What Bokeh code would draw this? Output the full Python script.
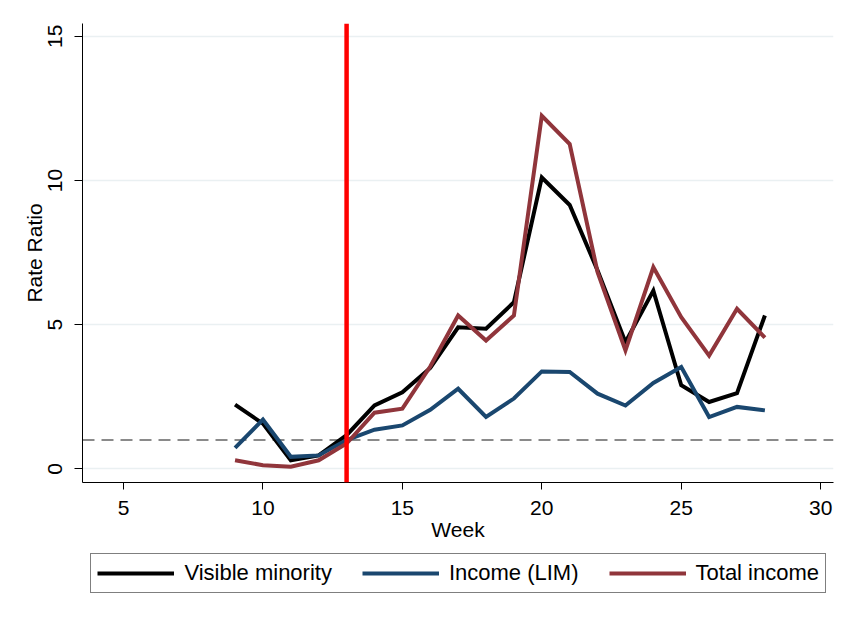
from bokeh.plotting import figure
from bokeh.layouts import column
from bokeh.models import Span, Legend, LegendItem, FixedTicker, Range1d
from bokeh.embed import file_html
from bokeh.resources import INLINE

# datos
weeks = list(range(9, 29))
visible_minority = [2.23, 1.57, 0.30, 0.47, 1.17, 2.20, 2.66, 3.50, 4.91, 4.86,
                    5.78, 10.10, 9.15, 6.88, 4.39, 6.18, 2.90, 2.32, 2.63, 5.32]
income_lim = [0.73, 1.71, 0.42, 0.47, 1.00, 1.36, 1.51, 2.05, 2.78, 1.80,
              2.44, 3.38, 3.36, 2.61, 2.20, 2.98, 3.53, 1.80, 2.15, 2.03]
total_income = [0.30, 0.13, 0.08, 0.30, 0.88, 1.95, 2.09, 3.55, 5.32, 4.45,
                5.32, 12.24, 11.26, 6.82, 4.11, 6.99, 5.26, 3.93, 5.55, 4.55]

series_names = ["Visible minority", "Income (LIM)", "Total income"]
series_colors = ["black", "#1a476f", "#90353b"]

x_ticks = [5, 10, 15, 20, 25, 30]
y_ticks = [0, 5, 10, 15]
intervention_week = 13
reference_ratio = 1

FONT = "Liberation Sans"

p = figure(width=856, height=552, output_backend="svg", toolbar_location=None,
           x_range=Range1d(3.53, 30.46), y_range=Range1d(-0.47, 15.44),
           min_border_left=82, min_border_right=23, min_border_top=23,
           min_border_bottom=70)
p.outline_line_color = None
p.xgrid.grid_line_color = None
p.ygrid.grid_line_color = "#eaf0f2"
p.ygrid.grid_line_width = 1.5
p.xaxis.ticker = FixedTicker(ticks=x_ticks)
p.yaxis.ticker = FixedTicker(ticks=y_ticks)

for ax in (p.xaxis[0], p.yaxis[0]):
    ax.axis_line_color = "black"
    ax.major_tick_line_color = "black"
    ax.minor_tick_line_color = None
    ax.major_tick_in = 0
    ax.major_label_text_font = FONT
    ax.major_label_text_font_size = "21px"
    ax.major_label_text_color = "black"
    ax.axis_label_text_font = FONT
    ax.axis_label_text_font_size = "21px"
    ax.axis_label_text_font_style = "normal"
    ax.axis_label_text_color = "black"

p.xaxis.major_tick_out = 7
p.xaxis.major_label_standoff = 11
p.xaxis.axis_label = "Week"
p.xaxis.axis_label_standoff = 0
p.yaxis.major_tick_out = 8
p.yaxis.major_label_orientation = "vertical"
p.yaxis.major_label_standoff = 12
p.yaxis.axis_label = "Rate Ratio"
p.yaxis.axis_label_standoff = 0

# linea de referencia en 1
p.add_layout(Span(location=reference_ratio, dimension="width", line_color="#8a8a8a",
                  line_width=2, line_dash="12 7", level="underlay"))

all_series = [visible_minority, income_lim, total_income]
for vals, col in zip(all_series, series_colors):
    p.line(weeks, vals, line_color=col, line_width=4, line_join="miter")

p.add_layout(Span(location=intervention_week, dimension="height", line_color="red",
                  line_width=4.5))

# figura aparte solo para la leyenda (debajo del eje x)
lf = figure(width=856, height=71, output_backend="svg", toolbar_location=None,
            x_axis_type=None, y_axis_type=None, min_border=0,
            x_range=Range1d(0, 1), y_range=Range1d(0, 1))
lf.outline_line_color = None
items = []
for name, vals, col in zip(series_names, all_series, series_colors):
    # un solo punto fuera del rango: no se dibuja, solo sirve para la leyenda
    r = lf.line(x=weeks[:1], y=vals[:1], line_color=col, line_width=4)
    items.append(LegendItem(label=name, renderers=[r]))

legend = Legend(items=items, orientation="horizontal", location=(8.4, 30.5),
                border_line_color="black", border_line_width=1,
                background_fill_color="white", background_fill_alpha=1,
                label_text_font=FONT, label_text_font_size="22px",
                label_text_color="black",
                glyph_width=77, glyph_height=20, label_standoff=10,
                spacing=30, padding=6, margin=0)
lf.add_layout(legend, "center")

layout = column(p, lf, spacing=0)
open("out.html", "w").write(file_html(layout, INLINE))
